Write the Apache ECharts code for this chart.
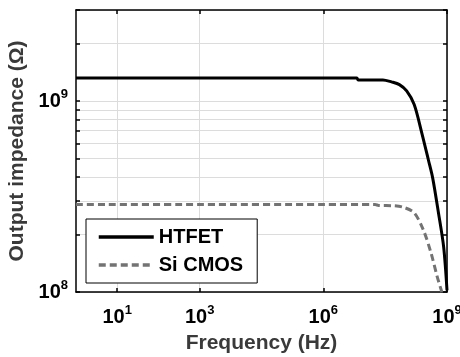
<!DOCTYPE html>
<html>
<head>
<meta charset="utf-8" />
<title>Output impedance</title>
<script src="https://cdn.jsdelivr.net/npm/echarts@6/dist/echarts.min.js"></script>
<style>
  html, body { margin: 0; padding: 0; background: #fff; }
  #main { width: 460px; height: 357px; }
</style>
</head>
<body>
<div id="main"></div>
<script>
// data (frequency in Hz, impedance in ohm)
var htfetFreq = [1, 1e3, 1e6, 6.5e6, 7e6, 2.8e7, 4.5e7, 7e7, 1.05e8, 1.6e8, 2.45e8, 3.55e8, 4.5e8, 6.2e8, 8.3e8, 1e9];
var htfetZ    = [1.32e9, 1.32e9, 1.32e9, 1.32e9, 1.29e9, 1.29e9, 1.26e9, 1.22e9, 1.13e9, 9.6e8, 6.8e8, 4.9e8, 3.95e8, 2.6e8, 1.72e8, 1.02e8];
var cmosFreq  = [1, 1e3, 1e6, 1.8e7, 2.2e7, 5e7, 8.7e7, 1.6e8, 2.7e8, 4.1e8, 5.8e8, 7.5e8];
var cmosZ     = [2.87e8, 2.87e8, 2.87e8, 2.87e8, 2.84e8, 2.83e8, 2.78e8, 2.6e8, 2.1e8, 1.6e8, 1.2e8, 1.0e8];
var xTickLabels = [10, 1e3, 1e6, 1e9];
var yTickLabels = [1e8, 1e9];
var yMinorTicks = [1e8, 2e8, 3e8, 4e8, 5e8, 6e8, 7e8, 8e8, 9e8, 1e9, 2e9, 3e9];

function pairs(xs, ys) {
  return xs.map(function (x, i) { return [x, ys[i]]; });
}

var font = 'Liberation Sans, Arial, sans-serif';
function powLabel(v) {
  var e = Math.round(Math.log10(v));
  return '{b|10}{s|' + e + '}';
}
var labelRich = {
  b: { fontSize: 20, fontWeight: 'bold', color: '#000', fontFamily: font },
  s: { fontSize: 13, fontWeight: 'bold', color: '#000', fontFamily: font, padding: [0, 0, 13, 0] }
};

var chart = echarts.init(document.getElementById('main'));
var option = {
  animation: false,
  grid: { left: 76, right: 13, top: 10, bottom: 65, outerBoundsMode: 'none' },
  legend: {
    orient: 'vertical',
    left: 86, top: 219,
    backgroundColor: '#fff',
    borderColor: '#000', borderWidth: 1, borderRadius: 0,
    padding: [8, 14, 8, 11],
    itemWidth: 55, itemHeight: 20, itemGap: 8,
    itemStyle: { opacity: 0 },
    lineStyle: { width: 3.5 },
    textStyle: { fontSize: 20, fontWeight: 'bold', color: '#000', fontFamily: font },
    data: ['HTFET', 'Si CMOS']
  },
  xAxis: [{
    type: 'log', logBase: 10, min: 1, max: 1e9,
    name: 'Frequency (Hz)', nameLocation: 'middle', nameGap: 41,
    nameTextStyle: { fontSize: 21, fontWeight: 'bold', color: '#3a3a3a', fontFamily: font },
    axisLine: { lineStyle: { color: '#000', width: 1.5 } },
    axisTick: { inside: true, length: 4, customValues: xTickLabels, lineStyle: { color: '#000', width: 1.5 } },
    axisLabel: { customValues: xTickLabels, formatter: powLabel, rich: labelRich, margin: 12 },
    splitLine: { show: true, lineStyle: { color: '#dcdcdc', width: 1 } }
  }, {
    type: 'log', logBase: 10, min: 1, max: 1e9, position: 'top',
    axisLine: { lineStyle: { color: '#000', width: 1.5 } },
    axisTick: { inside: true, length: 4, customValues: xTickLabels, lineStyle: { color: '#000', width: 1.5 } },
    axisLabel: { show: false },
    splitLine: { show: false }
  }],
  yAxis: [{
    type: 'log', logBase: 10, min: 1e8, max: 3e9,
    name: 'Output impedance (\u03a9)', nameLocation: 'middle', nameGap: 48, nameRotate: 90,
    nameTextStyle: { fontSize: 21, fontWeight: 'bold', color: '#3a3a3a', fontFamily: font },
    axisLine: { lineStyle: { color: '#000', width: 1.5 } },
    axisTick: { inside: true, length: 4, customValues: yMinorTicks, lineStyle: { color: '#000', width: 1.5 } },
    axisLabel: { customValues: yTickLabels, formatter: powLabel, rich: labelRich, margin: 8 },
    splitLine: { show: true, lineStyle: { color: '#dcdcdc', width: 1 } }
  }, {
    type: 'log', logBase: 10, min: 1e8, max: 3e9, position: 'right',
    axisLine: { lineStyle: { color: '#000', width: 1.5 } },
    axisTick: { inside: true, length: 4, customValues: yMinorTicks, lineStyle: { color: '#000', width: 1.5 } },
    axisLabel: { show: false },
    splitLine: { show: false }
  }],
  series: [{
    name: 'HTFET', type: 'line', symbol: 'none', smooth: 0.3,
    data: pairs(htfetFreq, htfetZ),
    lineStyle: { color: '#000', width: 3 },
    itemStyle: { color: '#000' }
  }, {
    name: 'Si CMOS', type: 'line', symbol: 'none', smooth: 0.3,
    data: pairs(cmosFreq, cmosZ),
    lineStyle: { color: '#737373', width: 3, type: [7, 4] },
    itemStyle: { color: '#737373' }
  }]
};
chart.setOption(option);
</script>
</body>
</html>
